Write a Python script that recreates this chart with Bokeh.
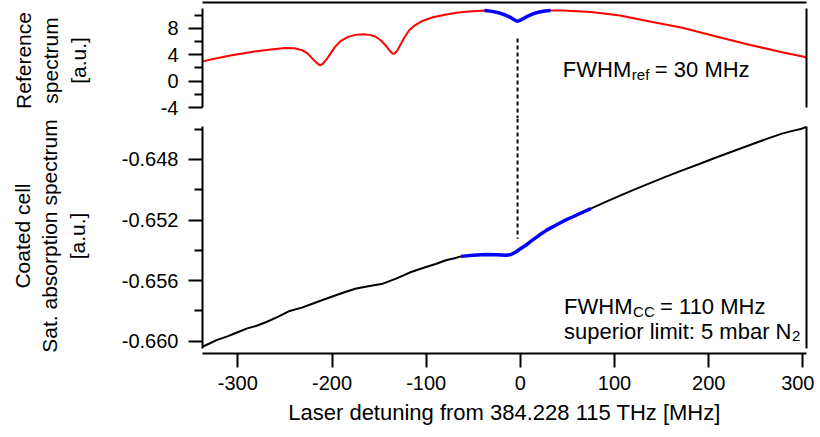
from bokeh.plotting import figure
from bokeh.layouts import column
from bokeh.models import LinearAxis, FixedTicker, PrintfTickFormatter, Range1d, Label
from bokeh.embed import file_html
from bokeh.resources import INLINE

# ---------------- data ----------------
# Reference spectrum (top panel): detuning [MHz], signal [a.u.]
ref_x = [-337, -325, -308, -295, -280, -265, -250, -240, -232, -226, -220, -216, -213, -210,
         -206, -202, -197, -191, -183, -175, -167, -160, -154, -148, -143, -139, -136, -134,
         -131, -127, -123, -118, -112, -104, -93, -80, -68, -55, -45, -38, -30, -22, -16, -10,
         -6, -3.5, -1, 3, 8, 14, 20, 26, 32, 45, 55, 75, 106, 136, 172, 207, 242, 278, 303.5]
ref_y = [3.0, 3.4, 3.88, 4.2, 4.53, 4.8, 5.02, 4.98, 4.7, 4.2, 3.3, 2.75, 2.4, 2.6,
         3.25, 4.1, 5.15, 6.05, 6.7, 7.0, 7.08, 7.0, 6.75, 6.15, 5.4, 4.65, 4.2, 4.15,
         4.55, 5.6, 6.65, 7.7, 8.45, 9.1, 9.67, 10.05, 10.33, 10.52, 10.62, 10.68, 10.55, 10.3, 10.0, 9.6,
         9.25, 9.06, 9.15, 9.45, 9.85, 10.2, 10.45, 10.6, 10.68, 10.68, 10.62, 10.45, 9.92, 9.06, 8.07, 6.8, 5.54, 4.38, 3.63]
ref_blue_lo, ref_blue_hi = -38, 32

# Coated cell saturated absorption spectrum (bottom panel)
cc_x = [-337, -330, -322.6, -311, -299.6, -290, -280, -269.6, -257, -244.9, -232, -220.1, -210,
        -198.9, -186, -174.3, -160, -146, -132, -116, -100.1, -90, -78.9, -70, -63, -50, -36.5,
        -25, -15.3, -10, -4.8, 0, 5.8, 12, 19.9, 28, 37.6, 46, 55.3, 65, 74.7, 90, 106.5, 118.9,
        136.4, 154, 171.8, 190, 207.1, 225, 242.4, 260, 277.8, 290, 298.9, 303.5]
cc_y = [-0.66035, -0.66015, -0.65993, -0.65968, -0.65939, -0.65915, -0.65898, -0.65873, -0.65838,
        -0.65800, -0.65778, -0.65751, -0.65728, -0.65703, -0.65675, -0.65652, -0.65635, -0.65620,
        -0.65587, -0.65543, -0.65510, -0.65490, -0.65466, -0.65452, -0.65440, -0.65432, -0.65428,
        -0.65429, -0.65433, -0.65428, -0.65411, -0.65390, -0.65367, -0.65336, -0.65301, -0.65267,
        -0.65235, -0.65206, -0.65180, -0.65152, -0.65125, -0.65082, -0.65037, -0.65004, -0.64960,
        -0.64915, -0.64872, -0.64830, -0.64789, -0.64748, -0.64708, -0.64668, -0.64630, -0.64610,
        -0.64597, -0.64586]
cc_blue_lo, cc_blue_hi = -63, 74.7

x_ticks = [-300, -200, -100, 0, 100, 200, 300]
ref_ticks = [-4, 0, 4, 8]
ref_minor = [-2, 2, 6, 10]
cc_ticks = [-0.660, -0.656, -0.652, -0.648]
cc_minor = [-0.658, -0.654, -0.650, -0.646]

dash_x = -3
dash_ref_top = 6.45
dash_cc_bottom = -0.65323

X_RANGE = (-337.5, 303.8)
REF_RANGE = (-5.63, 11.89)
CC_RANGE = (-0.66081, -0.64530)
REF_BOUNDS = (-4, 11)
CC_BOUNDS = (-0.66046, -0.64585)

# ---------------- style ----------------
FONT = "Liberation Sans"
TICK_FS = "20px"
LAB_FS = "21px"
TXT_FS = "22px"
SUB = "15px"
RED = "#ff0000"
BLUE = "#0000ff"

LEFT = 202
FRAME_W = 604
RIGHT = 8
W = LEFT + FRAME_W + RIGHT


def style_axis(ax, label_standoff, tick_standoff, label_fs=LAB_FS):
    ax.axis_line_width = 2
    ax.axis_line_color = "black"
    ax.major_tick_line_width = 2
    ax.minor_tick_line_width = 2
    ax.major_tick_out = 14
    ax.major_tick_in = 0
    ax.minor_tick_out = 8
    ax.minor_tick_in = 0
    ax.major_label_text_font = FONT
    ax.major_label_text_font_size = TICK_FS
    ax.major_label_text_color = "black"
    ax.axis_label_text_font = FONT
    ax.axis_label_text_font_size = label_fs
    ax.axis_label_text_font_style = "normal"
    ax.axis_label_text_color = "black"
    ax.major_label_standoff = tick_standoff
    ax.axis_label_standoff = label_standoff


def blank_axis(bounds="auto"):
    return LinearAxis(ticker=FixedTicker(ticks=[]), bounds=bounds, axis_line_width=2,
                      axis_line_color="black", major_tick_out=0, major_tick_in=0,
                      minor_tick_out=0, minor_tick_in=0, major_label_standoff=0,
                      major_label_text_font_size="0px")


def txt(p, x, y, text, size=TXT_FS, dx=0, dy=0):
    p.add_layout(Label(x=x, y=y, x_offset=dx, y_offset=dy, text=text, text_font=FONT,
                       text_font_size=size, text_color="black", text_baseline="alphabetic"))


xr = Range1d(*X_RANGE)

# ---------------- top panel ----------------
p1 = figure(width=W, height=118, x_range=xr, y_range=Range1d(*REF_RANGE),
            x_axis_location=None, y_axis_location=None, toolbar_location=None,
            output_backend="svg", min_border_left=LEFT, min_border_right=RIGHT,
            min_border_top=2, min_border_bottom=0)
p1.outline_line_color = None
p1.grid.visible = False

ax1 = LinearAxis(ticker=FixedTicker(ticks=ref_ticks, minor_ticks=ref_minor),
                 formatter=PrintfTickFormatter(format="%d"), bounds=REF_BOUNDS,
                 axis_label="Reference\nspectrum\n[a.u.]")
style_axis(ax1, 68, 10)
p1.add_layout(ax1, "left")
p1.add_layout(blank_axis(), "above")
p1.add_layout(blank_axis(REF_BOUNDS), "right")

p1.line(ref_x, ref_y, line_color=RED, line_width=2)
bx = [x for x in ref_x if ref_blue_lo <= x <= ref_blue_hi]
by = [y for x, y in zip(ref_x, ref_y) if ref_blue_lo <= x <= ref_blue_hi]
p1.line(bx, by, line_color=BLUE, line_width=3.5)
p1.segment(x0=[dash_x], y0=[dash_ref_top], x1=[dash_x], y1=[REF_RANGE[0]],
           line_color="black", line_width=2, line_dash="4 3")

txt(p1, 45.1, 1.77, "FWHM")
txt(p1, 45.1, 1.77, "ref", size=SUB, dx=69, dy=-5)
txt(p1, 45.1, 1.77, "= 30 MHz", dx=92)

# ---------------- bottom panel ----------------
p2 = figure(width=W, height=315, x_range=xr, y_range=Range1d(*CC_RANGE),
            x_axis_location=None, y_axis_location=None, toolbar_location=None,
            output_backend="svg", min_border_left=LEFT, min_border_right=RIGHT,
            min_border_top=0, min_border_bottom=80)
p2.outline_line_color = None
p2.grid.visible = False

ax2 = LinearAxis(ticker=FixedTicker(ticks=cc_ticks, minor_ticks=cc_minor),
                 formatter=PrintfTickFormatter(format="%.3f"), bounds=CC_BOUNDS,
                 axis_label="Coated cell\nSat. absorption spectrum\n[a.u.]")
style_axis(ax2, 30, 10)
p2.add_layout(ax2, "left")
p2.add_layout(blank_axis(CC_BOUNDS), "right")

xax = LinearAxis(ticker=FixedTicker(ticks=x_ticks, minor_ticks=[]),
                 formatter=PrintfTickFormatter(format="%d"),
                 axis_label="Laser detuning from 384.228 115 THz [MHz]")
style_axis(xax, 7, 8, label_fs=TXT_FS)
p2.add_layout(xax, "below")

p2.line(cc_x, cc_y, line_color="black", line_width=2)
cbx = [x for x in cc_x if cc_blue_lo <= x <= cc_blue_hi]
cby = [y for x, y in zip(cc_x, cc_y) if cc_blue_lo <= x <= cc_blue_hi]
p2.line(cbx, cby, line_color=BLUE, line_width=3.5)
p2.segment(x0=[dash_x], y0=[CC_RANGE[1]], x1=[dash_x], y1=[dash_cc_bottom],
           line_color="black", line_width=2, line_dash="4 3")

txt(p2, 46.4, -0.657692, "FWHM")
txt(p2, 46.4, -0.657692, "CC", size=SUB, dx=69, dy=-5)
txt(p2, 46.4, -0.657692, "= 110 MHz", dx=96)
txt(p2, 46.4, -0.659341, "superior limit: 5 mbar N")
txt(p2, 46.4, -0.659341, "2", size=SUB, dx=228, dy=-5)

layout = column(p1, p2, spacing=0)

open("out.html", "w").write(file_html(layout, INLINE))
